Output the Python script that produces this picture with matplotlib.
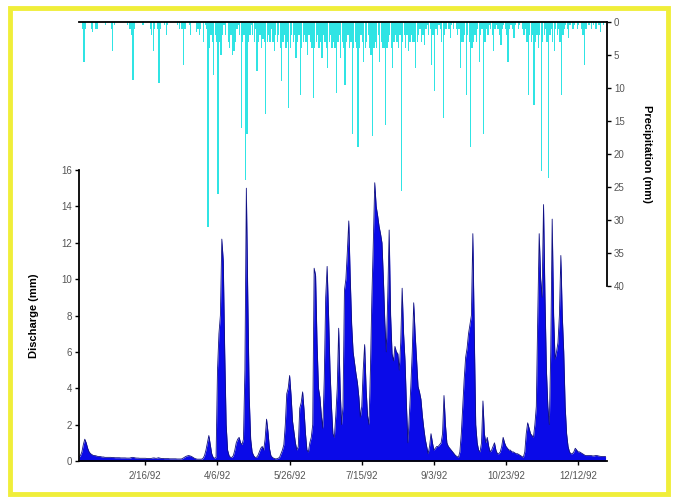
import numpy as np
import pandas as pd
import matplotlib
matplotlib.use('Agg')
from matplotlib import pyplot as plt
from matplotlib.patches import Rectangle

# daily values for 1992 (Jan 1 .. Dec 31)
discharge = [
    0.2, 0.3, 0.5, 0.9, 1.2, 1.0, 0.7, 0.5, 0.4, 0.35,
    0.3, 0.3, 0.28, 0.25, 0.25, 0.24, 0.22, 0.22, 0.2, 0.2,
    0.2, 0.2, 0.2, 0.19, 0.19, 0.18, 0.18, 0.18, 0.18, 0.17,
    0.17, 0.17, 0.17, 0.16, 0.16, 0.16, 0.18, 0.2, 0.19, 0.17,
    0.16, 0.16, 0.15, 0.15, 0.15, 0.15, 0.15, 0.14, 0.14, 0.14,
    0.14, 0.16, 0.17, 0.15, 0.15, 0.18, 0.16, 0.14, 0.14, 0.13,
    0.13, 0.13, 0.13, 0.12, 0.12, 0.12, 0.12, 0.12, 0.11, 0.11,
    0.11, 0.11, 0.15, 0.2, 0.25, 0.28, 0.3, 0.28, 0.25, 0.2,
    0.15, 0.12, 0.1, 0.1, 0.1, 0.1, 0.15, 0.3, 0.6, 1.0,
    1.4, 0.9, 0.4, 0.2, 0.15, 0.2, 5.0, 7.0, 8.0, 12.2,
    11.0, 6.0, 2.0, 0.6, 0.3, 0.2, 0.2, 0.3, 0.6, 1.0,
    1.2, 1.3, 1.0, 0.9, 1.2, 5.0, 15.0, 9.0, 3.5, 1.2,
    0.5, 0.3, 0.2, 0.2, 0.3, 0.5, 0.7, 0.8, 0.6, 1.2,
    2.3, 1.6, 0.7, 0.3, 0.2, 0.15, 0.12, 0.12, 0.15, 0.2,
    0.4, 0.6, 0.9, 2.0, 3.7, 4.0, 4.7, 3.6, 2.2, 1.6,
    1.0, 0.6, 0.8, 2.9, 3.2, 3.8, 2.8, 1.5, 0.6, 0.5,
    1.0, 1.3, 2.0, 10.6, 10.2, 6.5, 4.0, 3.5, 2.5, 1.8,
    4.5, 9.0, 10.7, 8.0, 5.0, 3.0, 1.5, 1.3, 2.5, 4.0,
    7.3, 4.0, 2.0, 3.0, 9.4, 10.0, 11.5, 13.2, 10.1, 7.5,
    6.0, 5.4, 4.8, 4.3, 3.5, 2.4, 3.0, 5.0, 6.4, 4.0,
    2.5, 2.0, 5.0, 9.0, 12.0, 15.3, 14.0, 13.5, 12.9, 12.5,
    12.0, 10.0, 7.6, 6.0, 9.0, 12.7, 8.0, 5.9, 5.5, 6.3,
    6.0, 5.9, 5.0, 6.5, 9.5, 7.0, 5.5, 3.0, 1.0, 2.5,
    4.1, 6.0, 8.7, 7.0, 5.6, 4.1, 3.8, 3.4, 2.5, 1.8,
    1.2, 0.8, 0.4, 0.8, 1.5, 1.0, 0.6, 0.7, 0.8, 0.8,
    0.9, 1.0, 1.5, 3.6, 2.0, 1.0, 0.8, 0.7, 0.6, 0.5,
    0.4, 0.3, 0.25, 0.2, 0.5, 1.5, 3.0, 4.5, 5.7, 6.2,
    7.0, 7.5, 8.0, 12.5, 7.0, 2.0, 1.0, 0.6, 0.5, 1.0,
    3.3, 1.5, 1.0, 1.3, 0.8, 0.5, 0.6, 0.8, 1.0, 0.6,
    0.4, 0.4, 0.5, 0.8, 1.3, 1.0, 0.8, 0.7, 0.6, 0.6,
    0.5, 0.5, 0.45, 0.4, 0.4, 0.35, 0.3, 0.25, 0.2, 0.5,
    1.5, 2.1, 1.8, 1.5, 1.4, 1.3, 2.0, 3.0, 8.0, 12.5,
    10.0, 9.0, 14.1, 9.0, 5.0, 3.0, 2.0, 6.0, 13.3, 8.0,
    5.6, 6.0, 6.5, 8.0, 11.3, 8.0, 6.0, 3.0, 1.5, 0.8,
    0.5, 0.4, 0.4, 0.5, 0.7, 0.6, 0.5, 0.5, 0.45, 0.4,
    0.35, 0.3, 0.3, 0.3, 0.3, 0.3, 0.28, 0.28, 0.3, 0.3,
    0.28, 0.26, 0.25, 0.25, 0.25, 0.24,
]

precipitation = [
    0, 0, 1, 6, 1, 0, 0, 0, 1, 1.5,
    0, 1, 1, 0, 0, 0, 0, 0, 0.5, 0,
    0, 0, 1, 4.4, 0.5, 0, 0, 0, 0, 0,
    0, 0, 0, 0.5, 0, 1, 2, 8.8, 1, 0,
    0, 0, 0, 0, 0.5, 0, 0, 0, 0, 1,
    2, 4.4, 1, 0, 1, 9.2, 1, 0, 0, 0.5,
    2, 0.5, 0, 0, 0, 0, 0, 0, 0.5, 1,
    0, 1, 6.5, 1, 0, 0, 0.5, 2, 0, 0,
    0, 1.5, 1, 2, 1, 0, 3, 0.5, 1, 31,
    4, 2, 3, 8, 2, 3, 26, 3, 5, 2,
    0.5, 2, 0, 3, 4, 2, 5, 4.4, 3, 1,
    0.5, 2, 16, 3, 2, 24, 17, 3, 2, 0.5,
    2, 3, 1, 7.4, 3, 2, 4, 2.5, 3, 14,
    3, 2, 3, 1, 3, 4.4, 2, 3, 2, 4,
    9, 3, 2, 4, 3, 13, 4, 2, 3, 2,
    5.5, 3, 2, 11, 4, 3, 2, 3, 5, 2,
    3, 4, 11.5, 4, 3, 2, 4, 3, 5.5, 2,
    3, 4, 7, 3, 2, 4, 3, 4, 10.8, 3,
    2, 5.5, 3, 4, 9.5, 3, 2, 4, 3, 17,
    4, 3, 4, 19, 4, 2, 3, 6, 4, 3,
    2, 4, 5, 17.3, 4, 3, 4, 2, 6, 3,
    4, 4, 15.6, 4, 3, 2, 4, 7, 3, 2,
    3, 4, 2, 25.6, 3, 2, 4, 2, 4.4, 3,
    2, 3, 3, 7, 3, 2, 1, 3, 2, 3.5,
    1, 0.5, 2, 1, 6.5, 2, 10.5, 1, 2, 0.5,
    1, 3, 14.5, 2, 1, 0, 1, 2.4, 0.5, 1,
    0, 1, 2, 1, 7, 3, 3, 2, 11, 2,
    3, 19, 4, 3, 2, 3, 1, 6, 2, 1,
    17, 3, 1, 2, 0.5, 1, 2, 4.4, 1, 0.5,
    1, 2, 3.5, 1, 0.5, 1, 2, 6, 1, 0.5,
    1, 2.4, 0.5, 0, 1, 0.5, 0, 1, 2, 1,
    3, 11, 2, 3, 2, 12.5, 3, 2, 4, 2,
    22.6, 3, 2, 1, 3, 23.6, 2, 1, 3, 4.4,
    1, 2, 1, 3, 11, 2, 1, 0.5, 1, 2.4,
    0.5, 0, 1, 0.5, 0, 1, 0.5, 0, 1, 2,
    6.5, 1, 0, 0.5, 0, 1, 0.5, 0, 1, 0,
    0.5, 1.5, 0, 0.5, 0, 0,
]

tick_labels = ['2/16/92', '4/6/92', '5/26/92', '7/15/92', '9/3/92', '10/23/92', '12/12/92']

dates = pd.date_range('1992-01-01', periods=len(discharge), freq='D')
tick_dates = pd.to_datetime(tick_labels, format='%m/%d/%y')
x_end = dates[-1] + pd.Timedelta(days=1)

plt.rcParams['font.family'] = ['Liberation Sans', 'DejaVu Sans']

fig = plt.figure(figsize=(6.75, 4.99), dpi=100)

# precipitation hanging from the top
axp = fig.add_axes([79/675, 1 - 286/499, (607-79)/675, (286-22)/499])
axp.bar(dates, precipitation, width=0.9, color='#30e4e4', align='edge', linewidth=0)
axp.set_xlim(dates[0], x_end)
axp.set_ylim(40, 0)
axp.yaxis.tick_right()
axp.yaxis.set_label_position('right')
axp.set_yticks(np.arange(0, 41, 5))
axp.tick_params(axis='y', direction='out', length=3, width=1, labelsize=7, labelcolor='#555555', pad=2)
axp.set_xticks([])
for s in ['left', 'bottom']:
    axp.spines[s].set_visible(False)
for s in ['top', 'right']:
    axp.spines[s].set_linewidth(1.3)
axp.set_ylabel('Precipitation (mm)', rotation=270, fontsize=8, fontweight='bold', labelpad=20)
axp.patch.set_visible(False)

# discharge on the lower part
axq = fig.add_axes([79/675, 1 - 461/499, (607-79)/675, (461-170)/499])
axq.fill_between(dates, discharge, 0, color='#0a0ae8', linewidth=0)
axq.plot(dates, discharge, color='#101080', linewidth=0.6)
axq.set_xlim(dates[0], x_end)
axq.set_ylim(0, 16)
axq.set_yticks(np.arange(0, 17, 2))
axq.set_xticks(tick_dates)
axq.set_xticklabels(tick_labels)
axq.tick_params(axis='both', direction='out', length=3, width=1, labelsize=7, labelcolor='#555555', pad=2)
axq.tick_params(axis='x', pad=4)
for s in ['top', 'right']:
    axq.spines[s].set_visible(False)
for s in ['left', 'bottom']:
    axq.spines[s].set_linewidth(1.3)
axq.set_ylabel('Discharge (mm)', fontsize=8, fontweight='bold', labelpad=16)
axq.patch.set_visible(False)

# yellow frame around the whole picture
fig.patches.append(Rectangle((10/675, 1 - 494/499), (668-10)/675, (494-8)/499,
                             transform=fig.transFigure, fill=False,
                             edgecolor='#f0ee3a', linewidth=3.5))

fig.savefig('out.png', dpi=100)
